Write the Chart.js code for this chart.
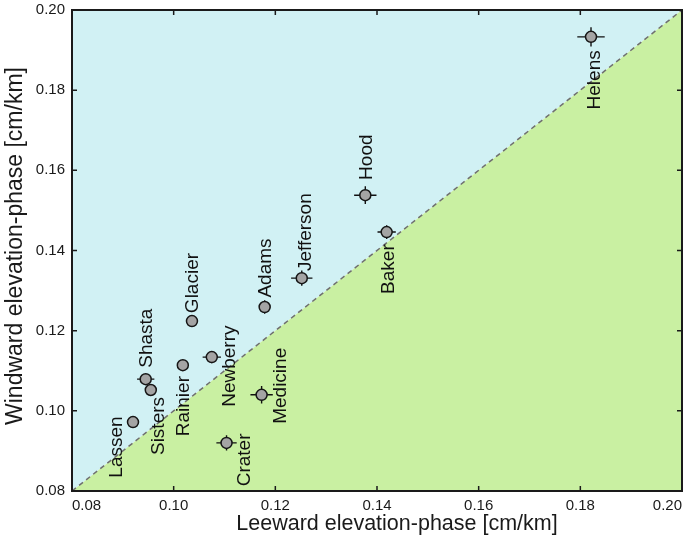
<!DOCTYPE html>
<html>
<head>
<meta charset="utf-8">
<script src="https://cdn.jsdelivr.net/npm/chart.js@4/dist/chart.umd.min.js"></script>
<style>
  html, body { margin: 0; padding: 0; background: #ffffff; overflow: hidden; }
  #wrap { width: 684px; height: 543px; overflow: hidden; }
  #c { display: block; }
</style>
</head>
<body>
<div id="wrap"><canvas id="c" width="689" height="543"></canvas></div>
<script>
// Volcano names and elevation-phase gradients (cm/km)
const volcanoes   = ['Lassen','Shasta','Sisters','Rainier','Glacier','Newberry','Crater','Medicine','Adams','Jefferson','Hood','Baker','Helens'];
const leeward     = [0.0920, 0.0945, 0.0955, 0.1018, 0.1036, 0.1075, 0.1104, 0.1173, 0.1179, 0.1252, 0.1377, 0.1419, 0.1821];
const windward    = [0.0972, 0.1079, 0.1052, 0.1114, 0.1224, 0.1134, 0.0920, 0.1040, 0.1259, 0.1331, 0.1538, 0.1446, 0.1933];
const leewardErr  = [0.0010, 0.0017, 0.0010, 0.0007, 0.0009, 0.0018, 0.0020, 0.0022, 0.0011, 0.0021, 0.0022, 0.0018, 0.0027];
const windwardErr = [0.0012, 0.0013, 0.0012, 0.0008, 0.0012, 0.0015, 0.0019, 0.0022, 0.0017, 0.0019, 0.0022, 0.0017, 0.0024];
const tickValues  = [0.08, 0.10, 0.12, 0.14, 0.16, 0.18, 0.20];
const axisMin = 0.08, axisMax = 0.20;

// where each name sits around its marker (pixel offsets of the text centre)
const labelOffsets = {
  Lassen: [-17, 25], Shasta: [0, -41], Sisters: [7, 36], Rainier: [0, 41],
  Glacier: [0, -38], Newberry: [17, 9], Crater: [17, 17], Medicine: [18, -9],
  Adams: [0, -39], Jefferson: [3, -46], Hood: [0, -38], Baker: [1, 37], Helens: [3, 43]
};

const FONT = "'Liberation Sans', Arial, Helvetica, sans-serif";
const points = volcanoes.map((n, i) => ({ x: leeward[i], y: windward[i] }));

// shaded halves above / below the 1:1 line
const regionFill = {
  id: 'regionFill',
  beforeDatasetsDraw(chart) {
    const { ctx, scales: { x, y } } = chart;
    ctx.save();
    ctx.fillStyle = '#d1f1f4';
    ctx.beginPath();
    ctx.moveTo(x.getPixelForValue(axisMin), y.getPixelForValue(axisMin));
    ctx.lineTo(x.getPixelForValue(axisMin), y.getPixelForValue(axisMax));
    ctx.lineTo(x.getPixelForValue(axisMax), y.getPixelForValue(axisMax));
    ctx.closePath();
    ctx.fill();
    ctx.fillStyle = '#c9f0a2';
    ctx.beginPath();
    ctx.moveTo(x.getPixelForValue(axisMin), y.getPixelForValue(axisMin));
    ctx.lineTo(x.getPixelForValue(axisMax), y.getPixelForValue(axisMax));
    ctx.lineTo(x.getPixelForValue(axisMax), y.getPixelForValue(axisMin));
    ctx.closePath();
    ctx.fill();
    ctx.restore();
  }
};

// cross-shaped uncertainty bars under each marker
const errorBars = {
  id: 'errorBars',
  beforeDatasetDraw(chart, args) {
    if (args.index !== 1) return;
    const { ctx, scales: { x, y } } = chart;
    ctx.save();
    ctx.strokeStyle = '#111';
    ctx.lineWidth = 1.4;
    ctx.beginPath();
    for (let i = 0; i < volcanoes.length; i++) {
      const px = x.getPixelForValue(leeward[i]);
      const py = y.getPixelForValue(windward[i]);
      ctx.moveTo(x.getPixelForValue(leeward[i] - leewardErr[i]), py);
      ctx.lineTo(x.getPixelForValue(leeward[i] + leewardErr[i]), py);
      ctx.moveTo(px, y.getPixelForValue(windward[i] - windwardErr[i]));
      ctx.lineTo(px, y.getPixelForValue(windward[i] + windwardErr[i]));
    }
    ctx.stroke();
    ctx.restore();
  }
};

// vertical volcano names, frame, inward ticks and axis titles
const decorations = {
  id: 'decorations',
  afterDraw(chart) {
    const { ctx, chartArea: a, scales: { x, y } } = chart;
    ctx.save();
    ctx.fillStyle = '#111';
    ctx.font = '19px ' + FONT;
    ctx.textAlign = 'center';
    ctx.textBaseline = 'middle';
    volcanoes.forEach((name, i) => {
      const px = x.getPixelForValue(leeward[i]) + labelOffsets[name][0];
      const py = y.getPixelForValue(windward[i]) + labelOffsets[name][1];
      ctx.save();
      ctx.translate(px, py);
      ctx.rotate(-Math.PI / 2);
      ctx.fillText(name, 0, 1);
      ctx.restore();
    });

    ctx.strokeStyle = '#1a1a1a';
    ctx.lineWidth = 1.5;
    ctx.beginPath();
    tickValues.forEach(v => {
      const px = x.getPixelForValue(v);
      ctx.moveTo(px, a.bottom); ctx.lineTo(px, a.bottom - 5);
      ctx.moveTo(px, a.top); ctx.lineTo(px, a.top + 5);
      const py = y.getPixelForValue(v);
      ctx.moveTo(a.left, py); ctx.lineTo(a.left + 5, py);
      ctx.moveTo(a.right, py); ctx.lineTo(a.right - 5, py);
    });
    ctx.stroke();
    ctx.lineWidth = 2;
    ctx.strokeRect(a.left, a.top, a.right - a.left, a.bottom - a.top);

    ctx.fillStyle = '#1a1a1a';
    ctx.font = '21.5px ' + FONT;
    ctx.textBaseline = 'middle';
    ctx.fillText('Leeward elevation-phase [cm/km]', 397, 524);
    ctx.save();
    ctx.translate(16, 246);
    ctx.rotate(-Math.PI / 2);
    ctx.font = '23px ' + FONT;
    ctx.fillText('Windward elevation-phase [cm/km]', 0, 0);
    ctx.restore();
    ctx.restore();
  }
};

const setTicks = scale => { scale.ticks = tickValues.map(v => ({ value: v })); };
const noPadding = () => ({ left: 0, top: 0, right: 0, bottom: 0 });

new Chart(document.getElementById('c'), {
  type: 'scatter',
  data: {
    datasets: [
      {
        type: 'line',
        data: [{ x: axisMin, y: axisMin }, { x: axisMax, y: axisMax }],
        borderColor: '#6f6f6f',
        borderWidth: 1.5,
        borderDash: [5, 4],
        pointRadius: 0,
        fill: false
      },
      {
        data: points,
        pointRadius: 5.5,
        pointBackgroundColor: '#a4a4a4',
        pointBorderColor: '#161616',
        pointBorderWidth: 1.5
      }
    ]
  },
  options: {
    responsive: false,
    animation: false,
    devicePixelRatio: 1,
    layout: { padding: { left: 0, top: 10, right: 0, bottom: 0 } },
    plugins: { legend: { display: false }, tooltip: { enabled: false } },
    scales: {
      x: {
        type: 'linear', min: axisMin, max: axisMax,
        afterBuildTicks: setTicks,
        afterFit: s => { s.height = 52; s.paddingLeft = 0; s.paddingRight = 0; s.getPadding = noPadding; },
        grid: { display: true, drawOnChartArea: false, drawTicks: true, tickLength: 6, tickColor: 'rgba(0,0,0,0)' },
        border: { display: false },
        ticks: {
          align: 'inner', padding: 0, color: '#1a1a1a',
          font: { size: 15, family: FONT },
          callback: v => Number(v).toFixed(2)
        }
      },
      y: {
        type: 'linear', min: axisMin, max: axisMax,
        afterBuildTicks: setTicks,
        afterFit: s => { s.width = 72; s.paddingTop = 0; s.paddingBottom = 0; s.getPadding = noPadding; },
        grid: { display: false, drawTicks: false },
        border: { display: false },
        ticks: {
          padding: 7, color: '#1a1a1a',
          font: { size: 15, family: FONT },
          callback: v => Number(v).toFixed(2)
        }
      }
    }
  },
  plugins: [regionFill, errorBars, decorations]
});
</script>
</body>
</html>
